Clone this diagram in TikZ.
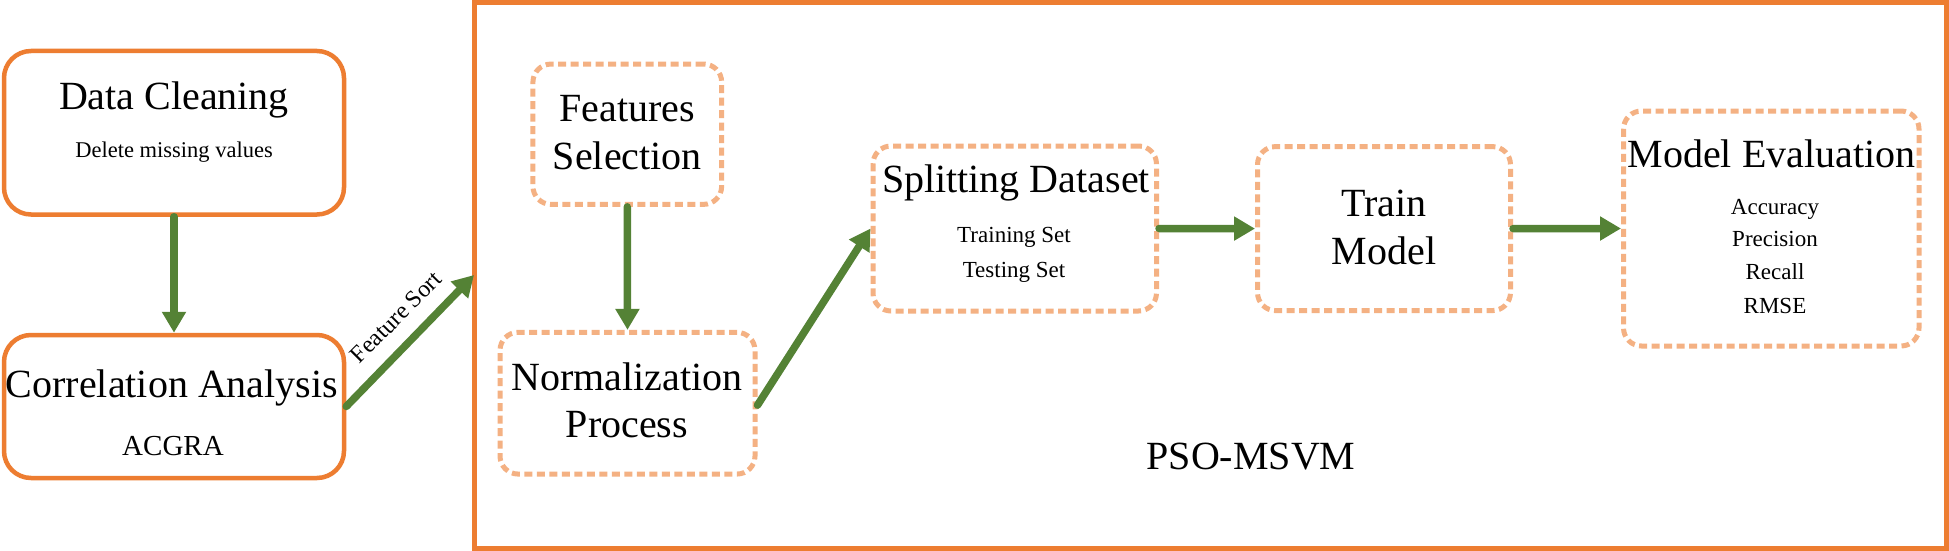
\documentclass[tikz,border=0pt]{standalone}
\usepackage{fontspec}
\setmainfont{Liberation Serif}
\usetikzlibrary{arrows.meta}
\definecolor{orangeM}{HTML}{ED7D31}
\definecolor{orangeL}{HTML}{F4B183}
\definecolor{greenA}{HTML}{548235}
\tikzset{
  solidbox/.style={draw=orangeM, line width=4.5pt, rounded corners=27pt, fill=white, inner sep=0pt},
  dashbox/.style={draw=orangeL, line width=5pt, rounded corners=18pt, dash pattern=on 8pt off 4.5pt, inner sep=0pt},
  flow/.style={draw=greenA, line width=7.5pt, line cap=round, -{Triangle[length=21pt,width=23pt]}},
  big/.style={font=\fontsize{40}{48}\selectfont, anchor=base, inner sep=0pt},
  small/.style={font=\fontsize{23}{28}\selectfont, anchor=base, inner sep=0pt},
}
\begin{document}
\begin{tikzpicture}[x=1pt,y=-1pt]
\useasboundingbox (0,0) rectangle (1949,551);
\fill[white] (0,0) rectangle (1949,551);
% outer frame
\draw[orangeM, line width=5pt] (474,2.5) rectangle (1946.5,548.5);
\coordinate (frameIn) at (474,275);
% boxes
\node[solidbox, minimum width=340pt, minimum height=163.5pt] (dc) at (174,132.75) {};
\node[solidbox, minimum width=340pt, minimum height=143pt] (ca) at (174,406.5) {};
\node[dashbox, minimum width=188.7pt, minimum height=140.3pt] (fs) at (627.3,134.2) {};
\node[dashbox, minimum width=255pt, minimum height=141.7pt] (np) at (627.5,403.2) {};
\node[dashbox, minimum width=283.5pt, minimum height=165pt] (sd) at (1014.75,228.5) {};
\node[dashbox, minimum width=253pt, minimum height=164pt] (tm) at (1384,228.6) {};
\node[dashbox, minimum width=295.5pt, minimum height=235pt] (me) at (1771.25,228.5) {};
% texts
\node[big] (t1) at (174,109) {Data Cleaning};
\node[small, font=\fontsize{22.5}{27}\selectfont] (t2) at (174,157) {Delete missing values};
\node[big] (t3) at (172,397) {Correlation Analysis};
\node[big, font=\fontsize{29}{34}\selectfont] (t4) at (173,455) {ACGRA};
\node[big] (t5) at (627.3,121.7) {Features};
\node[big] (t6) at (627.3,169.3) {Selection};
\node[big] (t7) at (627,390.7) {Normalization};
\node[big] (t8) at (627,437.3) {Process};
\node[big] (t9) at (1016,192) {Splitting Dataset};
\node[small] (t10) at (1014,242) {Training Set};
\node[small] (t11) at (1014,277) {Testing Set};
\node[big] (t12) at (1384,216.7) {Train};
\node[big] (t13) at (1384,264) {Model};
\node[big] (t14) at (1771.5,167) {Model Evaluation};
\node[small] (t15) at (1775,214) {Accuracy};
\node[small] (t16) at (1775,246) {Precision};
\node[small] (t17) at (1775,279) {Recall};
\node[small] (t18) at (1775,313) {RMSE};
\node[big] (t19) at (1251,469) {PSO-MSVM};
% connectors
\draw[flow] (dc.south) -- (ca.north);
\draw[flow] (ca.east) -- (frameIn);
\node[font=\fontsize{24}{28}\selectfont, rotate=45.2, inner sep=0pt] (lbl) at (396,317) {Feature Sort};
\draw[flow] (fs.south) -- (np.north);
\draw[flow] ([yshift=-2pt]np.east) -- (sd.west);
\draw[flow] (sd.east) -- (tm.west);
\draw[flow] (tm.east) -- (me.west);
\end{tikzpicture}
\end{document}
